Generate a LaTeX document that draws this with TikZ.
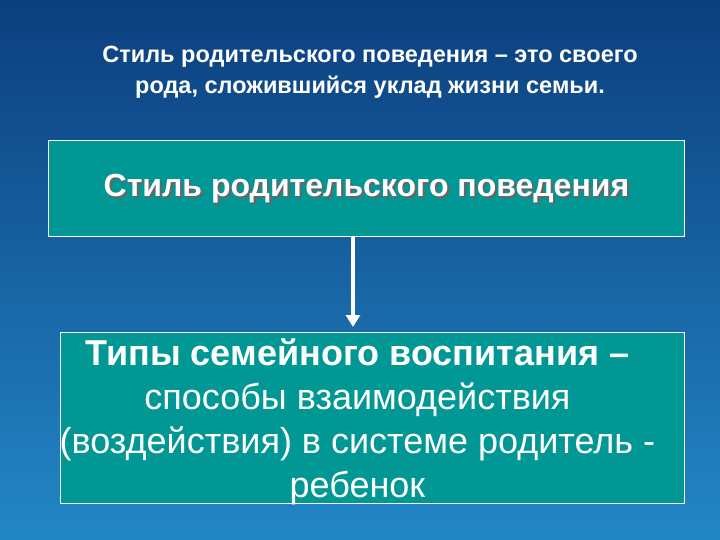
\documentclass[tikz,border=0pt]{standalone}
\usepackage{fontspec}
\setmainfont{Liberation Sans}
\usetikzlibrary{positioning,shadows,arrows.meta}
\definecolor{bgtop}{HTML}{0C3F7E}
\definecolor{bgbot}{HTML}{2387C6}
\definecolor{boxfill}{HTML}{019795}
\tikzset{
  slidebox/.style = {draw=white, line width=0.8pt, fill=boxfill, rectangle, align=center, text=white},
  caption/.style  = {text=white, align=center, font=\bfseries\fontsize{23.5}{31}\selectfont}
}
\begin{document}
\begin{tikzpicture}[x=1pt, y=-1pt, >=latex]
% background
\shade[top color=bgtop, bottom color=bgbot] (0,0) rectangle (720,540);
\useasboundingbox (0,0) rectangle (720,540);

% heading
\node[caption] (title) at (370,72) {Стиль родительского поведения – это своего\\рода, сложившийся уклад жизни семьи.};

% boxes
\node[slidebox, minimum width=636pt, minimum height=96pt, anchor=north west] (style) at (48,140) {};
\node[text=black!60, font=\bfseries\fontsize{32}{38}\selectfont] at ([xshift=2pt,yshift=-2pt]style.center) {Стиль родительского поведения};
\node[text=white, font=\bfseries\fontsize{32}{38}\selectfont] (stylet) at (style.center) {Стиль родительского поведения};

\node[slidebox, minimum width=624pt, minimum height=171pt, anchor=north west] (types) at (60,332) {};
\node[text=white, align=center, font=\fontsize{36}{44}\selectfont] (typest) at ([xshift=-15pt,yshift=-4pt]types.center)
  {\textbf{Типы семейного воспитания –}\\способы взаимодействия\\(воздействия) в системе родитель -\\ребенок};

% connector
\coordinate (tip) at (353,327);
\draw[-{Triangle[length=12pt,width=14pt]}, white, line width=4pt] (style.south -| tip) -- (tip);
\end{tikzpicture}
\end{document}
